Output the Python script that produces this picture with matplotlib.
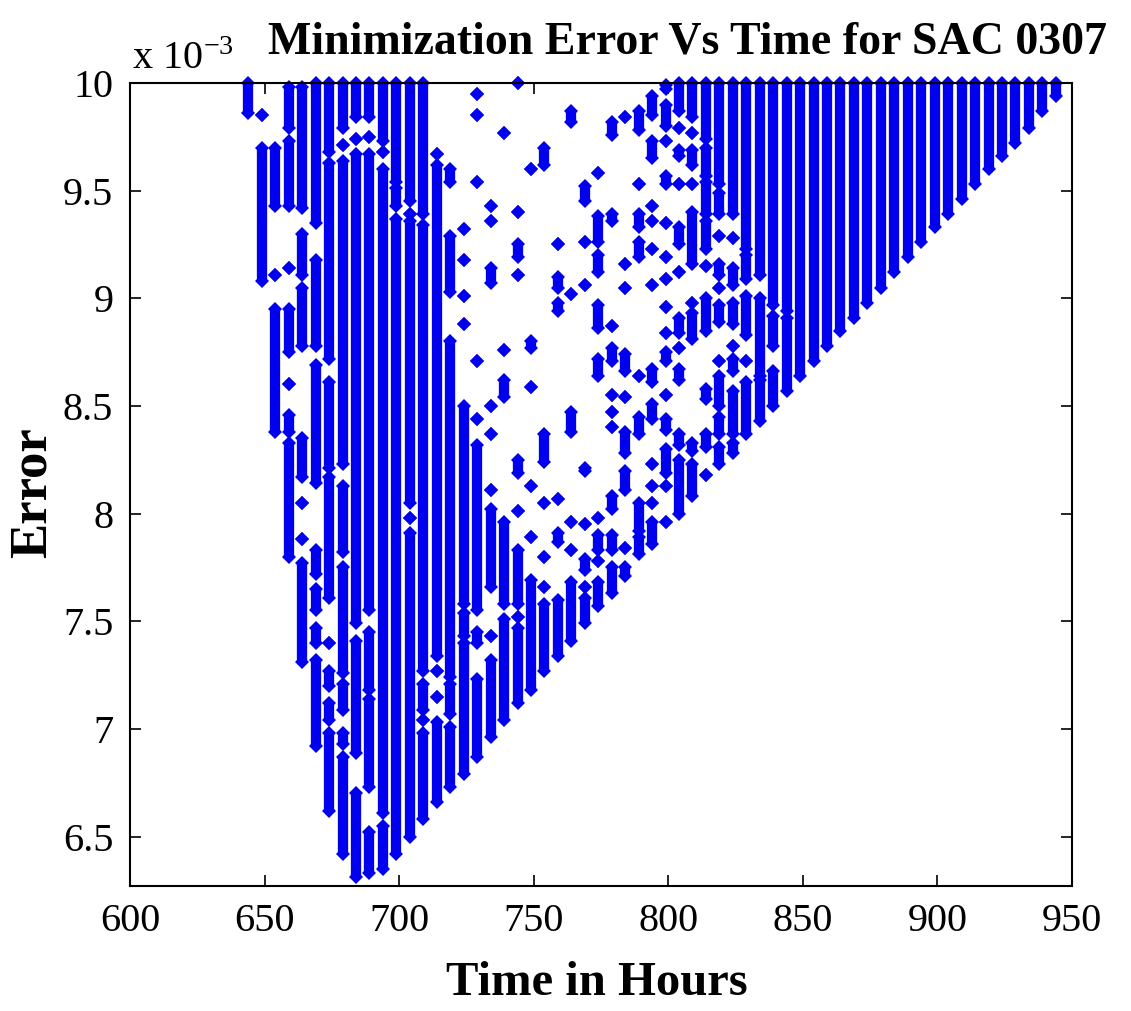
import matplotlib.pyplot as plt

plt.rcParams['font.family'] = ['Liberation Serif', 'DejaVu Serif']
plt.rcParams['mathtext.fontset'] = 'stix'

# time columns (hours)
col_x = [644, 649, 654, 659, 664, 669, 674, 679, 684, 689,
         694, 699, 704, 709, 714, 719, 724, 729, 734, 739,
         744, 749, 754, 759, 764, 769, 774, 779, 784, 789,
         794, 799, 804, 809, 814, 819, 824, 829, 834, 839,
         844, 849, 854, 859, 864, 869, 874, 879, 884, 889,
         894, 899, 904, 909, 914, 919, 924, 929, 934, 939, 944]

# error runs per column (x 1e-3), (low, high); a single point has low == high
col_runs = [
    [(9.86, 10.0)],
    [(9.85, 9.85), (9.08, 9.70)],
    [(9.43, 9.70), (9.11, 9.11), (8.38, 8.95)],
    [(9.79, 9.98), (9.43, 9.73), (9.14, 9.14), (8.75, 8.95), (8.60, 8.60), (8.38, 8.46), (7.80, 8.33)],
    [(9.42, 9.98), (9.11, 9.30), (8.78, 9.05), (8.17, 8.35), (8.05, 8.05), (7.88, 7.88), (7.31, 7.77)],
    [(9.35, 10.0), (8.78, 9.18), (8.14, 8.69), (7.72, 7.83), (7.55, 7.65), (7.40, 7.47), (6.92, 7.32)],
    [(9.68, 10.0), (8.72, 9.63), (8.21, 8.61), (7.61, 8.17), (7.40, 7.40), (7.20, 7.27), (7.04, 7.12), (6.62, 6.98)],
    [(9.79, 10.0), (9.71, 9.71), (8.23, 9.64), (7.82, 8.13), (7.26, 7.75), (7.09, 7.21), (6.93, 6.98), (6.42, 6.87)],
    [(9.84, 10.0), (9.74, 9.74), (7.49, 9.67), (6.89, 7.41), (6.31, 6.70)],
    [(9.84, 10.0), (9.75, 9.75), (7.55, 9.67), (7.18, 7.45), (6.73, 7.14), (6.33, 6.52)],
    [(9.73, 10.0), (9.68, 9.68), (6.61, 9.60), (6.35, 6.55)],
    [(9.54, 10.0), (9.43, 9.51), (6.42, 9.37)],
    [(9.45, 10.0), (9.39, 9.39), (8.05, 9.36), (7.98, 7.98), (6.50, 7.91)],
    [(9.39, 10.0), (7.27, 9.34), (7.09, 7.21), (7.04, 7.04), (6.58, 6.98)],
    [(9.67, 9.67), (7.34, 9.62), (7.27, 7.27), (7.15, 7.15), (6.66, 7.03)],
    [(9.54, 9.60), (9.03, 9.29), (7.24, 8.80), (7.07, 7.21), (6.73, 7.01)],
    [(9.32, 9.32), (9.18, 9.18), (9.01, 9.01), (8.88, 8.88), (7.58, 8.50), (7.43, 7.54), (6.79, 7.40)],
    [(9.95, 9.95), (9.85, 9.85), (9.54, 9.54), (8.71, 8.71), (8.44, 8.44), (7.55, 8.32), (7.40, 7.45), (6.87, 7.23)],
    [(9.43, 9.43), (9.36, 9.36), (9.07, 9.14), (8.50, 8.50), (8.37, 8.37), (8.11, 8.11), (7.66, 8.02), (7.43, 7.43), (6.96, 7.32)],
    [(9.77, 9.77), (8.76, 8.76), (8.54, 8.62), (7.58, 7.96), (7.04, 7.51)],
    [(10.0, 10.0), (9.40, 9.40), (9.19, 9.25), (9.11, 9.11), (8.19, 8.25), (8.01, 8.01), (7.58, 7.83), (7.52, 7.52), (7.12, 7.47)],
    [(9.60, 9.60), (8.77, 8.80), (8.59, 8.59), (8.13, 8.13), (7.89, 7.89), (7.18, 7.69)],
    [(9.62, 9.70), (8.24, 8.37), (8.05, 8.05), (7.80, 7.80), (7.66, 7.66), (7.27, 7.58)],
    [(9.25, 9.25), (9.05, 9.10), (8.94, 8.98), (8.07, 8.07), (7.87, 7.91), (7.34, 7.60)],
    [(9.82, 9.87), (9.02, 9.02), (8.38, 8.47), (7.96, 7.96), (7.83, 7.83), (7.41, 7.68)],
    [(9.45, 9.52), (9.26, 9.26), (9.06, 9.06), (8.20, 8.21), (7.95, 7.95), (7.74, 7.79), (7.66, 7.66), (7.49, 7.61)],
    [(9.58, 9.58), (9.26, 9.38), (9.12, 9.20), (8.86, 8.97), (8.64, 8.72), (7.98, 7.98), (7.83, 7.90), (7.78, 7.78), (7.57, 7.68)],
    [(9.76, 9.82), (9.36, 9.39), (8.87, 8.87), (8.71, 8.77), (8.55, 8.55), (8.47, 8.47), (8.40, 8.40), (8.02, 8.08), (7.83, 7.90), (7.63, 7.75)],
    [(9.84, 9.84), (9.16, 9.16), (9.05, 9.05), (8.66, 8.74), (8.54, 8.54), (8.28, 8.38), (8.11, 8.20), (7.84, 7.84), (7.71, 7.75)],
    [(9.78, 9.87), (9.53, 9.53), (9.33, 9.39), (9.19, 9.26), (8.64, 8.64), (8.37, 8.45), (7.92, 8.05), (7.81, 7.89)],
    [(9.85, 9.94), (9.65, 9.73), (9.43, 9.43), (9.36, 9.36), (9.23, 9.23), (9.06, 9.06), (8.61, 8.67), (8.44, 8.51), (8.23, 8.23), (8.13, 8.13), (8.05, 8.05), (7.86, 7.96)],
    [(9.97, 9.99), (9.80, 9.90), (9.73, 9.73), (9.53, 9.57), (9.35, 9.35), (9.19, 9.19), (9.09, 9.09), (8.96, 8.96), (8.84, 8.84), (8.71, 8.75), (8.55, 8.55), (8.39, 8.44), (8.19, 8.30), (8.13, 8.13), (7.96, 7.96)],
    [(9.87, 10.0), (9.79, 9.79), (9.66, 9.69), (9.53, 9.53), (9.25, 9.33), (9.12, 9.12), (8.84, 8.91), (8.77, 8.77), (8.62, 8.67), (8.32, 8.37), (8.00, 8.25)],
    [(9.84, 10.0), (9.77, 9.77), (9.62, 9.69), (9.53, 9.53), (9.16, 9.40), (8.98, 8.98), (8.81, 8.93), (8.29, 8.33), (8.08, 8.23)],
    [(9.74, 10.0), (9.57, 9.70), (9.39, 9.54), (9.23, 9.36), (9.15, 9.15), (8.85, 9.00), (8.53, 8.58), (8.31, 8.37), (8.18, 8.18)],
    [(9.53, 10.0), (9.39, 9.49), (9.29, 9.29), (9.11, 9.16), (9.05, 9.05), (8.89, 8.97), (8.71, 8.71), (8.50, 8.64), (8.37, 8.45), (8.23, 8.31)],
    [(9.39, 10.0), (9.28, 9.28), (9.06, 9.14), (8.88, 8.98), (8.78, 8.78), (8.66, 8.72), (8.37, 8.57), (8.28, 8.33)],
    [(9.23, 10.0), (9.09, 9.20), (8.83, 9.01), (8.71, 8.71), (8.37, 8.61)],
    [(9.11, 10.0), (8.64, 9.00), (8.43, 8.62)],
    [(8.97, 10.0), (8.78, 8.92), (8.50, 8.66)],
    [(8.94, 10.0), (8.57, 8.91)],
    [(8.64, 10.0)],
    [(8.71, 10.0)],
    [(8.78, 10.0)],
    [(8.85, 10.0)],
    [(8.91, 10.0)],
    [(8.98, 10.0)],
    [(9.05, 10.0)],
    [(9.12, 10.0)],
    [(9.19, 10.0)],
    [(9.26, 10.0)],
    [(9.33, 10.0)],
    [(9.39, 10.0)],
    [(9.46, 10.0)],
    [(9.53, 10.0)],
    [(9.60, 10.0)],
    [(9.66, 10.0)],
    [(9.72, 10.0)],
    [(9.79, 10.0)],
    [(9.87, 10.0)],
    [(9.94, 10.0)],
]

x_ticks = [600, 650, 700, 750, 800, 850, 900, 950]
y_ticks = [6.5, 7, 7.5, 8, 8.5, 9, 9.5, 10]
y_tick_labels = ['6.5', '7', '7.5', '8', '8.5', '9', '9.5', '10']

BLUE = '#0000ee'


def main():
    fig = plt.figure(figsize=(11.31, 10.11), dpi=100)
    ax = fig.add_axes([0.1149, 0.1236, 0.8329, 0.7943])

    seg_x, seg_lo, seg_hi = [], [], []
    pt_x, pt_y = [], []
    for x, runs in zip(col_x, col_runs):
        for lo, hi in runs:
            if hi > lo:
                seg_x.append(x)
                seg_lo.append(lo)
                seg_hi.append(hi)
            pt_x += [x, x]
            pt_y += [lo, hi]

    ax.vlines(seg_x, seg_lo, seg_hi, color=BLUE, lw=7.4, clip_on=False)
    ax.plot(pt_x, pt_y, ls='none', marker='D', ms=6.8, color=BLUE,
            markeredgewidth=0, clip_on=False)

    ax.set_xlim(600, 950)
    ax.set_ylim(6.27, 10.0)
    ax.set_xticks(x_ticks)
    ax.set_xticklabels([str(v) for v in x_ticks])
    ax.set_yticks(y_ticks)
    ax.set_yticklabels(y_tick_labels)
    ax.tick_params(direction='in', top=True, right=True, length=8, width=1.2,
                   labelsize=29, pad=12)
    for s in ax.spines.values():
        s.set_linewidth(1.5)

    fig.text(0.117, 0.932, r'x 10$^{\mathregular{-3}}$', fontsize=29)
    fig.text(0.608, 0.958, 'Minimization Error Vs Time for SAC 0307',
             fontsize=33, fontweight='bold', ha='center', va='center')
    fig.text(0.528, 0.028, 'Time in Hours', fontsize=35, fontweight='bold',
             ha='center', va='center')
    fig.text(0.029, 0.513, 'Error', fontsize=38, fontweight='bold',
             rotation=90, ha='center', va='center')

    fig.savefig('out.png', dpi=100)
    plt.close(fig)


if __name__ == '__main__':
    main()
